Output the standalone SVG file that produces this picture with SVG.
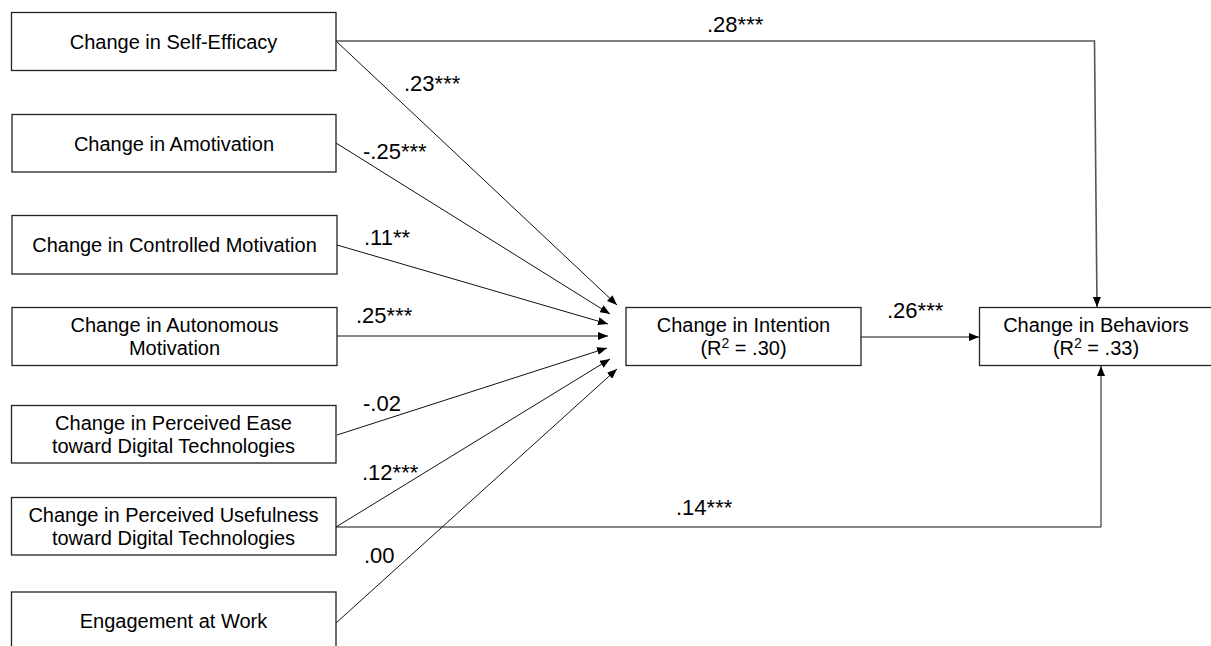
<svg xmlns="http://www.w3.org/2000/svg" width="1211" height="646" viewBox="0 0 1211 646">
<style>
.box{fill:#fff;stroke:#222;stroke-width:1.3}
.t{font-family:"Liberation Sans",Arial,sans-serif;font-size:20px;fill:#000;text-anchor:middle}
.lb{font-family:"Liberation Sans",Arial,sans-serif;font-size:22px;fill:#000}
.c{fill:none;stroke:#111;stroke-width:1}
.g{fill:none;stroke:#555;stroke-width:1.6}
</style>
<defs>
<marker id="ah" viewBox="0 0 10 8" refX="10" refY="4" markerWidth="10" markerHeight="8" markerUnits="userSpaceOnUse" orient="auto">
<path d="M0,0 L10,4 L0,8 Z" fill="#000"/>
</marker>
</defs>
<rect width="1211" height="646" fill="#fff"/>
<g id="connectors">
<line class="c" x1="336" y1="41" x2="617" y2="305" marker-end="url(#ah)"/>
<line class="c" x1="336" y1="143" x2="610" y2="314" marker-end="url(#ah)"/>
<line class="c" x1="337" y1="245" x2="608" y2="324" marker-end="url(#ah)"/>
<line class="c" x1="337" y1="336" x2="608" y2="336" marker-end="url(#ah)"/>
<line class="c" x1="337" y1="435" x2="607" y2="348" marker-end="url(#ah)"/>
<line class="c" x1="336" y1="527" x2="610" y2="359" marker-end="url(#ah)"/>
<line class="c" x1="336" y1="623" x2="617" y2="369" marker-end="url(#ah)"/>
<polyline class="g" points="336,41 1094.5,41 1097,307" marker-end="url(#ah)"/>
<polyline class="c" points="336,527 1101,527 1101,366" marker-end="url(#ah)"/>
<line class="c" x1="861" y1="337" x2="979" y2="337" marker-end="url(#ah)"/>
<text class="lb" x="707" y="32">.28***</text>
<text class="lb" x="404" y="91">.23***</text>
<text class="lb" x="363" y="159">-.25***</text>
<text class="lb" x="364" y="245">.11**</text>
<text class="lb" x="356" y="323">.25***</text>
<text class="lb" x="363" y="411">-.02</text>
<text class="lb" x="362" y="480">.12***</text>
<text class="lb" x="364" y="563">.00</text>
<text class="lb" x="676" y="515">.14***</text>
<text class="lb" x="887" y="318">.26***</text>
</g>
<g id="n-selfefficacy"><rect class="box" x="11.5" y="12.5" width="324.5" height="58"/><text class="t" x="173.5" y="49">Change in Self-Efficacy</text></g>
<g id="n-amotivation"><rect class="box" x="12" y="114.5" width="324" height="57.5"/><text class="t" x="174" y="151">Change in Amotivation</text></g>
<g id="n-controlled"><rect class="box" x="12" y="215.5" width="325" height="58.5"/><text class="t" x="174.5" y="252">Change in Controlled Motivation</text></g>
<g id="n-autonomous"><rect class="box" x="12" y="307.5" width="325" height="58"/><text class="t" x="174.5" y="332">Change in Autonomous</text><text class="t" x="174.5" y="355">Motivation</text></g>
<g id="n-ease"><rect class="box" x="11.5" y="405.5" width="324.5" height="57.5"/><text class="t" x="173.5" y="430">Change in Perceived Ease</text><text class="t" x="173.5" y="453">toward Digital Technologies</text></g>
<g id="n-usefulness"><rect class="box" x="11.5" y="497.5" width="324.5" height="57.5"/><text class="t" x="173.5" y="522">Change in Perceived Usefulness</text><text class="t" x="173.5" y="545">toward Digital Technologies</text></g>
<g id="n-engagement"><rect class="box" x="11.5" y="592" width="324.5" height="60"/><text class="t" x="173.5" y="628">Engagement at Work</text></g>
<g id="n-intention"><rect class="box" x="626" y="307.5" width="235" height="58"/><text class="t" x="743.5" y="332">Change in Intention</text><text class="t" x="743.5" y="355">(R<tspan font-size="14" dy="-7">2</tspan><tspan dy="7"> = .30)</tspan></text></g>
<g id="n-behaviors"><rect class="box" x="979.5" y="307.5" width="236" height="58"/><text class="t" x="1096" y="332">Change in Behaviors</text><text class="t" x="1096" y="355">(R<tspan font-size="14" dy="-7">2</tspan><tspan dy="7"> = .33)</tspan></text></g>
</svg>
